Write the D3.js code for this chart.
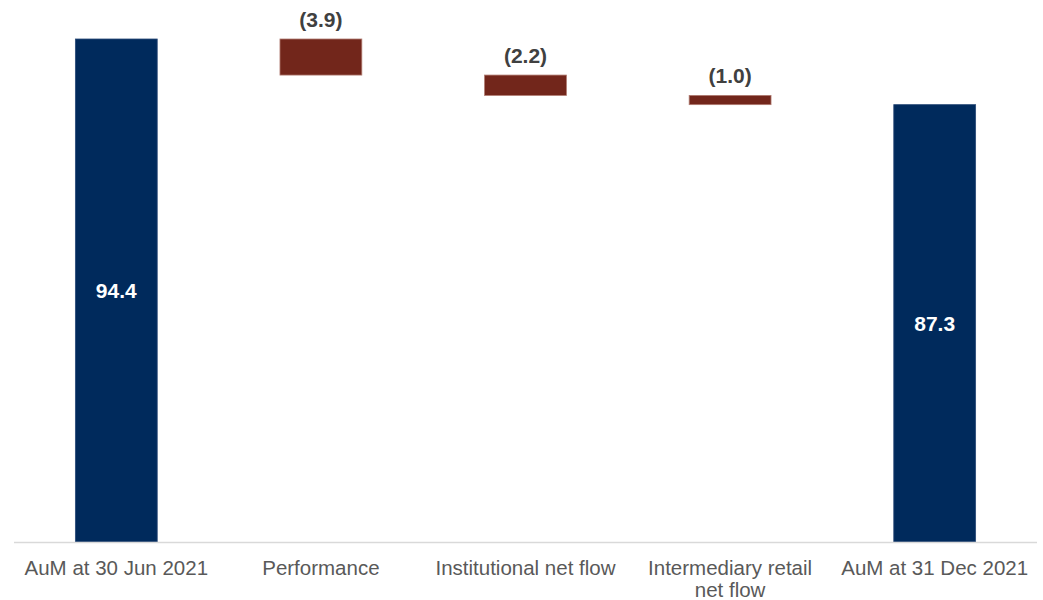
<!DOCTYPE html>
<html>
<head>
<meta charset="utf-8">
<script src="https://cdn.jsdelivr.net/npm/d3@7"></script>
<style>
  html, body { margin: 0; padding: 0; background: #ffffff; }
  svg { display: block; }
</style>
</head>
<body>
<svg id="chart" width="1043" height="600"></svg>
<script>
// AuM bridge, £bn
const categories = [
  "AuM at 30 Jun 2021",
  "Performance",
  "Institutional net flow",
  "Intermediary retail net flow",
  "AuM at 31 Dec 2021"
];
// Totals are absolute levels; movements are changes from the running total
const values = [94.4, -3.9, -2.2, -1.0, 87.3];
const kinds = ["total", "delta", "delta", "delta", "total"];
const yDomain = [40, 94.4];

const svg = d3.select("#chart");

const x = d3.scaleBand()
  .domain(categories)
  .range([14, 1037])
  .paddingInner(0.6)
  .paddingOuter(0.3);

const y = d3.scaleLinear()
  .domain(yDomain)
  .range([542, 39]);

// Build the floating segments
let running = 0;
const bars = categories.map((c, i) => {
  let lo, hi;
  if (kinds[i] === "total") {
    lo = yDomain[0]; hi = values[i];
    running = values[i];
  } else {
    const start = running;
    running = +(running + values[i]).toFixed(1);
    lo = Math.min(start, running); hi = Math.max(start, running);
  }
  return { cat: c, value: values[i], kind: kinds[i], lo, hi };
});

const fmt = v => v < 0 ? "(" + Math.abs(v).toFixed(1) + ")" : v.toFixed(1);

svg.append("g")
  .selectAll("rect")
  .data(bars)
  .join("rect")
  .attr("x", d => x(d.cat))
  .attr("width", x.bandwidth())
  .attr("y", d => y(d.hi))
  .attr("height", d => y(d.lo) - y(d.hi))
  .attr("fill", d => d.kind === "total" ? "#002A5C" : "#72261B")
  .attr("stroke", d => d.kind === "total" ? "#2a4a78" : "#b07a70")
  .attr("stroke-width", 0.8);

// Axis baseline
svg.append("line")
  .attr("x1", 14).attr("x2", 1037)
  .attr("y1", y(yDomain[0]) + 0.5).attr("y2", y(yDomain[0]) + 0.5)
  .attr("stroke", "#d9d9d9")
  .attr("stroke-width", 1.5);

// Value labels
const labels = svg.append("g")
  .attr("font-family", "Arial, 'Liberation Sans', sans-serif")
  .attr("font-size", 21)
  .attr("font-weight", "bold")
  .attr("text-anchor", "middle");

labels.selectAll("text")
  .data(bars)
  .join("text")
  .attr("x", d => x(d.cat) + x.bandwidth() / 2)
  .attr("y", d => d.kind === "total" ? (y(d.hi) + y(d.lo)) / 2 + 7.5 : y(d.hi) - 12.5)
  .attr("fill", d => d.kind === "total" ? "#ffffff" : "#404040")
  .text(d => fmt(d.value));

// Category labels, wrapped to the band width
const catG = svg.append("g")
  .attr("font-family", "Arial, 'Liberation Sans', sans-serif")
  .attr("font-size", 20.5)
  .attr("fill", "#595959")
  .attr("text-anchor", "middle");

const maxW = x.step() - 10;
catG.selectAll("text")
  .data(categories)
  .join("text")
  .attr("x", d => x(d) + x.bandwidth() / 2)
  .attr("y", 575)
  .each(function(d) {
    const t = d3.select(this);
    const words = d.split(" ");
    let line = [];
    let tspan = t.append("tspan").attr("x", t.attr("x")).attr("dy", 0);
    words.forEach(w => {
      line.push(w);
      tspan.text(line.join(" "));
      if (tspan.node().getComputedTextLength() > maxW && line.length > 1) {
        line.pop();
        tspan.text(line.join(" "));
        line = [w];
        tspan = t.append("tspan").attr("x", t.attr("x")).attr("dy", 22).text(w);
      }
    });
  });
</script>
</body>
</html>
